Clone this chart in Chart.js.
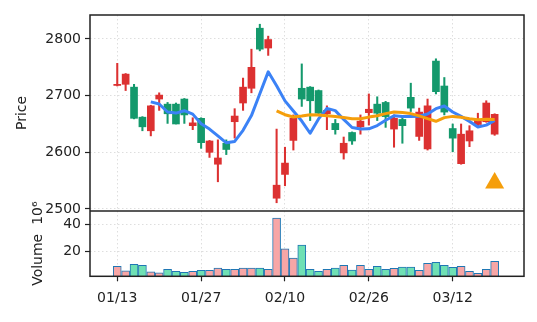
<!DOCTYPE html>
<html>
<head>
<meta charset="utf-8">
<script src="https://cdn.jsdelivr.net/npm/chart.js@4.4.1/dist/chart.umd.min.js"></script>
<style>
  html, body { margin: 0; padding: 0; background: #fff; }
  #wrap { width: 537px; height: 322px; }
</style>
</head>
<body>
<div id="wrap"><canvas id="chart" width="537" height="322"></canvas></div>
<script>
const dates = [
  "01/13", "01/14", "01/15", "01/16", "01/17", "01/20", "01/21", "01/22", "01/23", "01/24",
  "01/27", "01/28", "01/29", "01/30", "01/31", "02/03", "02/04", "02/05", "02/06", "02/07",
  "02/10", "02/11", "02/12", "02/13", "02/14", "02/18", "02/19", "02/20", "02/24", "02/25",
  "02/26", "02/27", "02/28", "03/03", "03/04", "03/05", "03/06", "03/07", "03/10", "03/11",
  "03/12", "03/13", "03/14", "03/17", "03/18", "03/19"
];
const opens = [
  2718, 2720, 2715, 2662, 2638, 2694, 2685, 2685, 2694, 2647,
  2660, 2600, 2579, 2616, 2654, 2687, 2713, 2819, 2784, 2519,
  2561, 2621, 2713, 2715, 2709, 2668, 2651, 2599, 2635, 2645,
  2670, 2685, 2688, 2641, 2658, 2697, 2628, 2606, 2761, 2717,
  2642, 2580, 2620, 2649, 2654, 2632
];
const highs = [
  2757, 2739, 2720, 2663, 2683, 2705, 2688, 2687, 2695, 2661,
  2661, 2621, 2622, 2622, 2677, 2731, 2782, 2826, 2805, 2641,
  2609, 2666, 2756, 2716, 2710, 2682, 2658, 2627, 2636, 2666,
  2703, 2698, 2690, 2666, 2665, 2722, 2678, 2694, 2765, 2732,
  2650, 2650, 2647, 2669, 2691, 2668
];
const lows = [
  2717, 2709, 2659, 2638, 2629, 2674, 2651, 2650, 2651, 2640,
  2607, 2591, 2548, 2596, 2625, 2674, 2705, 2779, 2771, 2511,
  2541, 2604, 2681, 2656, 2668, 2640, 2632, 2588, 2614, 2632,
  2648, 2656, 2644, 2609, 2616, 2672, 2621, 2604, 2703, 2666,
  2601, 2579, 2610, 2647, 2653, 2630
];
const closes = [
  2720, 2738, 2660, 2645, 2682, 2701, 2668, 2650, 2666, 2652,
  2617, 2620, 2590, 2605, 2664, 2715, 2750, 2782, 2799, 2542,
  2581, 2660, 2694, 2691, 2669, 2674, 2640, 2616, 2620, 2655,
  2676, 2669, 2663, 2660, 2647, 2678, 2671, 2682, 2707, 2671,
  2625, 2632, 2638, 2658, 2687, 2667
];
// volume in millions
const volumes = [
  9.3, 6.1, 10.8, 10.1, 5.4, 4.7, 7.2, 5.7, 5.0, 5.7,
  6.4, 6.4, 8.1, 7.2, 7.2, 8.1, 8.1, 8.1, 7.2, 44.4,
  22.0, 15.4, 24.7, 7.2, 5.7, 7.2, 8.1, 10.1, 6.6, 10.1,
  7.2, 9.3, 7.2, 7.9, 8.8, 8.8, 6.4, 11.5, 12.3, 10.1,
  8.6, 9.3, 5.7, 4.2, 7.2, 13.0
];
const markerIndex = 45;
const markerPrice = 2546;
const priceTicks = [2500, 2600, 2700, 2800];
const volumeTicks = [20, 40];
const dateTicks = [0, 10, 20, 30, 40];

const FONT = "'DejaVu Sans', sans-serif";
const INK = "#222222";
const UP = "#dc3131";
const DOWN = "#14996c";
const VOL_UP = "#f7a6a6";
const VOL_DOWN = "#6fe0b4";

function movingAverage(values, n) {
  const out = [];
  for (let i = n - 1; i < values.length; i++) {
    let sum = 0;
    for (let j = i - n + 1; j <= i; j++) sum += values[j];
    out.push({ x: i, y: sum / n });
  }
  return out;
}

const isUp = closes.map((c, i) => c >= opens[i]);
const candleColor = isUp.map((u) => (u ? UP : DOWN));

const framePlugin = {
  id: "frame",
  afterDraw(chart) {
    const { ctx, chartArea: a, scales } = chart;
    ctx.save();
    ctx.strokeStyle = INK;
    ctx.lineWidth = 1.5;
    ctx.strokeRect(a.left, a.top, a.right - a.left, a.bottom - a.top);
    ctx.beginPath();
    ctx.moveTo(a.left, scales.y.bottom);
    ctx.lineTo(a.right, scales.y.bottom);
    ctx.stroke();
    ctx.restore();
  }
};

function gridOpts() {
  return {
    color: "#dedede",
    lineWidth: 1,
    offset: false,
    tickColor: INK,
    tickLength: 5,
    tickWidth: 1.2
  };
}

new Chart(document.getElementById("chart"), {
  data: {
    datasets: [
      {
        type: "scatter",
        data: [{ x: markerIndex, y: markerPrice }],
        yAxisID: "y",
        pointStyle: "triangle",
        pointRadius: 11,
        backgroundColor: "#f59e0b",
        borderColor: "#f59e0b",
        borderWidth: 0,
        order: 0
      },
      {
        type: "line",
        data: movingAverage(closes, 20),
        yAxisID: "y",
        borderColor: "#f59e0b",
        borderWidth: 3,
        pointRadius: 0,
        tension: 0,
        borderJoinStyle: "round",
        order: 1
      },
      {
        type: "line",
        data: movingAverage(closes, 5),
        yAxisID: "y",
        borderColor: "#3b82f6",
        borderWidth: 3,
        pointRadius: 0,
        tension: 0,
        borderJoinStyle: "round",
        order: 2
      },
      {
        type: "bar",
        data: opens.map((o, i) => ({ x: i, y: [o, closes[i]] })),
        yAxisID: "y",
        backgroundColor: candleColor,
        borderColor: candleColor,
        borderWidth: 0,
        barThickness: 7,
        grouped: false,
        order: 3
      },
      {
        type: "bar",
        data: lows.map((l, i) => ({ x: i, y: [l, highs[i]] })),
        yAxisID: "y",
        backgroundColor: candleColor,
        borderWidth: 0,
        barThickness: 1.4,
        grouped: false,
        order: 4
      },
      {
        type: "bar",
        data: volumes.map((v, i) => ({ x: i, y: v })),
        yAxisID: "yv",
        backgroundColor: isUp.map((u) => (u ? VOL_UP : VOL_DOWN)),
        borderColor: "#1f77b4",
        borderWidth: 1,
        barThickness: 8,
        grouped: false,
        order: 5
      }
    ]
  },
  options: {
    responsive: false,
    animation: false,
    devicePixelRatio: 1,
    layout: { padding: { top: 15, right: 13, left: 0, bottom: 0 } },
    plugins: { legend: { display: false }, tooltip: { enabled: false } },
    scales: {
      x: {
        type: "linear",
        offset: false,
        min: -3.25,
        max: 48.5,
        afterBuildTicks(scale) { scale.ticks = dateTicks.map((v) => ({ value: v })); },
        afterFit(scale) { scale.height = 45.7; },
        ticks: {
          callback: (v) => dates[v],
          font: { family: FONT, size: 14 },
          color: INK,
          padding: 9,
          maxRotation: 0,
          autoSkip: false
        },
        grid: gridOpts(),
        border: { display: false, dash: [1.5, 2.5] }
      },
      yv: {
        type: "linear",
        position: "left",
        stack: "panes",
        stackWeight: 1,
        min: 2.1,
        max: 49.5,
        afterBuildTicks(scale) { scale.ticks = volumeTicks.map((v) => ({ value: v })); },
        afterFit(scale) { scale.width = 90; },
        ticks: {
          callback: (v) => String(v),
          font: { family: FONT, size: 14 },
          color: INK,
          padding: 4
        },
        title: {
          display: true,
          text: "Volume  10\u2076",
          font: { family: FONT, size: 14 },
          color: INK,
          padding: { top: 29.6, bottom: 0 }
        },
        grid: gridOpts(),
        border: { display: false, dash: [1.5, 2.5] }
      },
      y: {
        type: "linear",
        position: "left",
        stack: "panes",
        stackWeight: 3,
        min: 2496.5,
        max: 2842.3,
        afterBuildTicks(scale) { scale.ticks = priceTicks.map((v) => ({ value: v })); },
        afterFit(scale) { scale.width = 90; },
        ticks: {
          callback: (v) => String(v),
          font: { family: FONT, size: 14 },
          color: INK,
          padding: 4
        },
        title: {
          display: true,
          text: "Price",
          font: { family: FONT, size: 14 },
          color: INK,
          padding: { top: 13.6, bottom: 0 }
        },
        grid: gridOpts(),
        border: { display: false, dash: [1.5, 2.5] }
      }
    }
  },
  plugins: [framePlugin]
});
</script>
</body>
</html>
